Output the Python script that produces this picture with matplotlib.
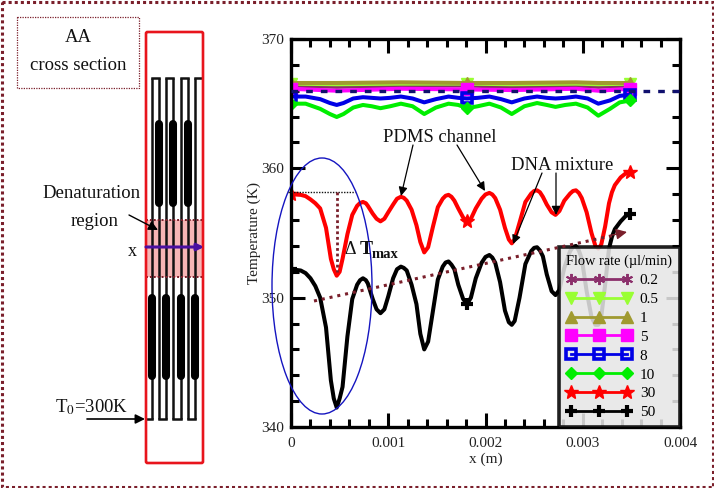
import numpy as np
import matplotlib
matplotlib.use("Agg")
import matplotlib.pyplot as plt
from matplotlib.patches import Rectangle, Ellipse, FancyBboxPatch
from matplotlib.ticker import MultipleLocator, FixedFormatter, FixedLocator

plt.rcParams['font.family'] = ['Liberation Serif', 'DejaVu Serif']
plt.rcParams['mathtext.fontset'] = 'stix'

# data
x_marks = [0, 0.00181, 0.00349]

x_flat = [0, 0.00047, 0.00113, 0.00181, 0.00227, 0.00293, 0.00316, 0.00349]
t_02 = [366.4, 366.3, 366.4, 366.4, 366.3, 366.4, 366.3, 366.4]
t_05 = [366.55, 366.5, 366.55, 366.55, 366.5, 366.55, 366.5, 366.55]
t_1 = [366.6, 366.6, 366.65, 366.6, 366.6, 366.65, 366.6, 366.6]
t_5 = [366.15, 366.0, 366.15, 366.1, 366.05, 366.15, 366.0, 366.15]

x_top = [0, 0.00015, 0.0003, 0.0004, 0.00047, 0.00054, 0.00064, 0.00074, 0.00083, 0.00092, 0.00102,
         0.00113, 0.00125, 0.00137, 0.00149, 0.00162, 0.00172, 0.00181, 0.00192, 0.00204, 0.00216,
         0.00227, 0.0024, 0.00253, 0.00263, 0.00272, 0.00282, 0.00293, 0.00305, 0.00316, 0.00328,
         0.00338, 0.00349]
t_8 = [365.55, 365.55, 365.35, 365.05, 364.9, 365.05, 365.4, 365.5, 365.45, 365.4, 365.45,
       365.55, 365.4, 365.1, 365.35, 365.55, 365.45, 365.4, 365.45, 365.55, 365.35,
       365.1, 365.4, 365.55, 365.45, 365.4, 365.45, 365.55, 365.4, 365.0, 365.25,
       365.6, 365.7]
t_10 = [365.0, 365.0, 364.6, 364.2, 363.97, 364.2, 364.7, 364.9, 364.8, 364.65, 364.8,
        365.0, 364.8, 364.2, 364.7, 365.0, 364.9, 364.65, 364.8, 365.0, 364.7,
        364.2, 364.8, 365.05, 364.9, 364.75, 364.9, 365.0, 364.7, 364.07, 364.6,
        365.1, 365.25]

x_wave = [0, 0.0001, 0.00015, 0.0002, 0.00025, 0.0003, 0.00036, 0.00041, 0.00044, 0.00047, 0.0005,
          0.00053, 0.00058, 0.00063, 0.00068, 0.00071, 0.00074, 0.00077, 0.00079, 0.00084, 0.00088,
          0.00092, 0.00096, 0.001, 0.00105, 0.00109, 0.00113, 0.00116, 0.00119, 0.00124, 0.00129,
          0.00133, 0.00137, 0.00141, 0.00146, 0.00151, 0.00156, 0.00159, 0.00162, 0.00165, 0.00168,
          0.00172, 0.00177, 0.00181, 0.00185, 0.0019, 0.00196, 0.002, 0.00204, 0.00207, 0.0021,
          0.00215, 0.0022, 0.00224, 0.00227, 0.0023, 0.00235, 0.00241, 0.00247, 0.0025, 0.00253,
          0.00256, 0.00259, 0.00263, 0.00268, 0.00272, 0.00276, 0.00281, 0.00287, 0.0029, 0.00293,
          0.00296, 0.00299, 0.00304, 0.00309, 0.00313, 0.00316, 0.00319, 0.00323, 0.00327, 0.0033,
          0.00333, 0.00339, 0.00344, 0.00349]
t_30 = [358.0, 357.95, 357.85, 357.6, 357.3, 356.9, 355.4, 353.0, 352.2, 351.7, 352.0,
        353.0, 354.9, 356.4, 357.1, 357.32, 357.4, 357.3, 357.1, 356.5, 356.1,
        355.9, 356.1, 356.6, 357.2, 357.65, 357.8, 357.72, 357.5, 356.8, 355.6,
        354.3, 353.5, 353.9, 355.5, 357.0, 357.65, 357.88, 357.95, 357.8, 357.5,
        356.9, 356.2, 355.9, 356.1, 356.9, 357.65, 357.98, 358.1, 357.98, 357.7,
        356.8, 355.4, 354.5, 354.2, 354.5, 355.8, 357.4, 358.05, 358.25, 358.3,
        358.15, 357.8, 357.2, 356.6, 356.4, 356.7, 357.5, 358.05, 358.25, 358.3,
        358.1, 357.7, 356.6, 355.0, 354.0, 353.8, 354.1, 355.5, 357.3, 358.15,
        358.7, 359.3, 359.6, 359.7]
t_50 = [352.2, 352.1, 351.9, 351.5, 350.9, 350.0, 347.7, 343.6, 342.2, 341.5, 342.2,
        343.1, 347.0, 349.9, 351.0, 351.35, 351.5, 351.35, 351.1, 349.9, 349.1,
        348.8, 349.1, 350.1, 351.5, 352.2, 352.4, 352.3, 352.1, 351.0, 349.5,
        347.2, 346.0, 346.6, 349.0, 351.4, 352.4, 352.72, 352.8, 352.55, 352.2,
        351.0, 349.9, 349.5, 350.0, 351.5, 352.7, 353.15, 353.3, 353.1, 352.7,
        351.2, 349.0, 348.1, 347.9, 348.2, 350.0, 352.6, 353.6, 353.85, 353.9,
        353.65, 353.2, 351.8, 350.5, 350.2, 350.6, 352.3, 353.6, 353.92, 354.0,
        353.65, 353.0, 350.5, 348.5, 347.9, 347.9, 348.5, 351.0, 353.8, 354.7,
        355.3, 355.9, 356.3, 356.5]

x_ref = [0, 0.004]
t_ref = [366.0, 366.0]

x_ticks = [0, 0.001, 0.002, 0.003, 0.004]
x_labels = ['0', '0.001', '0.002', '0.003', '0.004']
y_ticks = [340, 350, 360, 370]
y_labels = ['340', '350', '360', '370']

BROWN = '#7a1f2b'


def marks_for(xs):
    return [int(np.argmin(np.abs(np.array(xs) - m))) for m in x_marks]


fig = plt.figure(figsize=(7.14, 4.88), dpi=100)
W, H = 714.0, 488.0

# chart axes
ax = fig.add_axes([291 / W, 1 - 427 / H, 389 / W, 388 / H])
lw = 2.9
ax.plot(x_flat, t_02, color='#8b2f6b', lw=lw, marker=(6, 2, 0), ms=8, mew=1.4, markevery=marks_for(x_flat), label='0.2')
ax.plot(x_flat, t_05, color='#99ff33', lw=lw, marker='v', ms=8.5, markevery=marks_for(x_flat), label='0.5')
ax.plot(x_flat, t_1, color='#a09a30', lw=lw, marker='^', ms=8.5, markevery=marks_for(x_flat), label='1')
ax.plot(x_flat, t_5, color='#ff00ff', lw=lw, marker='s', ms=8.5, markevery=marks_for(x_flat), label='5')
ax.plot(x_top, t_8, color='#0000e6', lw=lw, marker='s', ms=7, mfc='none', mew=2.6, markevery=marks_for(x_top), label='8')
ax.plot(x_top, t_10, color='#00ee00', lw=lw, marker='D', ms=6.5, markevery=marks_for(x_top), label='10')
ax.plot(x_wave, t_30, color='#ff0000', lw=lw, marker='*', ms=10, markevery=marks_for(x_wave), label='30')
ax.plot(x_wave, t_50, color='black', lw=lw, marker='+', ms=9, mew=3, markevery=marks_for(x_wave), label='50')
ax.plot(x_ref, t_ref, color='#10106e', lw=2.4, dashes=(2.0, 2.4), zorder=4)

ax.set_xlim(0, 0.004)
ax.set_ylim(340, 370)
ax.xaxis.set_major_locator(FixedLocator(x_ticks))
ax.xaxis.set_major_formatter(FixedFormatter(x_labels))
ax.yaxis.set_major_locator(FixedLocator(y_ticks))
ax.yaxis.set_major_formatter(FixedFormatter(y_labels))
ax.xaxis.set_minor_locator(MultipleLocator(0.0002))
ax.yaxis.set_minor_locator(MultipleLocator(2))
ax.tick_params(which='major', direction='in', length=10, width=2.2, top=True, right=True, labelsize=11, pad=5, labelcolor='#222222')
ax.tick_params(which='minor', direction='in', length=5.5, width=2.2, top=True, right=True)
ax.tick_params(axis='x', which='major', pad=7)
for s in ax.spines.values():
    s.set_linewidth(2.4)
ax.set_xlabel('x (m)', fontsize=11, labelpad=2, color='#222222')
ax.set_ylabel('Temperature (K)', fontsize=11, labelpad=0, color='#222222')

leg = ax.legend(title='Flow rate (\u00b5l/min)', loc='lower right', bbox_to_anchor=(1.0, 0.0), borderaxespad=0,
                fontsize=11, title_fontsize=10.4, numpoints=3, handlelength=4.3, handletextpad=0.5,
                labelspacing=0.34, borderpad=0.5, fancybox=False, framealpha=0.87,
                facecolor='#e6e6e6', edgecolor='black', alignment='left')
leg.get_frame().set_linewidth(2.6)
leg.set_zorder(6)
for h in leg.get_lines():
    h.set_linewidth(2.0)

# overlay in pixel coordinates for the schematic and the annotations
ov = fig.add_axes([0, 0, 1, 1], zorder=10)
ov.set_xlim(0, W)
ov.set_ylim(H, 0)
ov.axis('off')
ov.patch.set_alpha(0)

ov.add_patch(Rectangle((1.5, 1.5), 711, 485, fill=False, ec=BROWN, lw=2.2, ls=(0, (1, 1))))
ov.add_patch(Rectangle((17, 17), 122, 71, fill=False, ec=BROWN, lw=0.9, ls=(0, (1, 1))))
ov.text(78, 38, 'AA', ha='center', va='center', fontsize=13.5, color='#111111')
ov.text(78, 66, 'cross section', ha='center', va='center', fontsize=13.5, color='#111111')

# denaturation band goes under the channel
ov.add_patch(Rectangle((146, 220), 57, 57, fc='#f7b5b5', ec='none', zorder=1))
ov.plot([146, 203], [220, 220], color=BROWN, lw=1.4, ls=(0, (1, 1)), zorder=3)
ov.plot([146, 203], [277, 277], color=BROWN, lw=1.4, ls=(0, (1, 1)), zorder=3)

channel_x = [152.3, 159, 166, 173.3, 180.7, 187.7, 195]
for cx in channel_x:
    ov.plot([cx, cx], [78, 419], color='#111111', lw=1.8, zorder=2, solid_capstyle='butt')
for a, b in [(152.3, 159), (166, 173.3), (180.7, 187.7), (195, 202)]:
    ov.plot([a, b], [78, 78], color='#111111', lw=1.8, zorder=2)
for a, b in [(146, 152.3), (159, 166), (173.3, 180.7), (187.7, 195)]:
    ov.plot([a, b], [419, 419], color='#111111', lw=1.8, zorder=2)
for cx in [159, 173.3, 187.7]:
    ov.plot([cx, cx], [124, 203], color='black', lw=5.8, solid_capstyle='round', zorder=2)
for cx in [152.3, 166, 180.7, 195]:
    ov.plot([cx, cx], [298, 376], color='black', lw=5.8, solid_capstyle='round', zorder=2)

ov.add_patch(FancyBboxPatch((146, 32), 57, 431, boxstyle='round,pad=0,rounding_size=1.5',
                            fill=False, ec='#e8141c', lw=1.9, zorder=3))

ov.annotate('', xy=(204, 247), xytext=(146, 247), zorder=4,
            arrowprops=dict(arrowstyle='-|>', color='#4b0fa0', lw=2.2, shrinkA=0, shrinkB=0))
ov.text(132, 251, 'x', ha='center', va='center', fontsize=13, color='#111111')
ov.text(92, 193, 'Denaturation', ha='center', va='center', fontsize=13.5, color='#111111')
ov.text(95, 222, 'region', ha='center', va='center', fontsize=13.5, color='#111111')
ov.annotate('', xy=(158, 230), xytext=(129, 215),
            arrowprops=dict(arrowstyle='-|>', color='black', lw=1.0, shrinkA=0, shrinkB=0, mutation_scale=14))
ov.text(92, 407, 'T$_0$=300K', ha='center', va='center', fontsize=13.5, color='#111111')
ov.annotate('', xy=(145, 419), xytext=(87, 419),
            arrowprops=dict(arrowstyle='-|>', color='black', lw=1.2, shrinkA=0, shrinkB=0, mutation_scale=14))

# chart annotations
ov.add_patch(Ellipse((322, 286), 100, 256, fill=False, ec='#1515c0', lw=1.0))
ov.plot([288, 355], [192, 192], color='#111111', lw=1.0, ls=(0, (1, 1)))
ov.plot([337, 337], [192, 272], color=BROWN, lw=2.0, ls=(0, (1, 1)))
ov.text(350, 250, '\u0394', ha='center', va='center', fontsize=13, color='#111111')
ov.text(366, 250, 'T', ha='center', va='center', fontsize=14, fontweight='bold', color='#111111')
ov.text(372, 254, 'max', ha='left', va='center', fontsize=10.5, fontweight='bold', color='#111111')

ov.text(440, 137, 'PDMS channel', ha='center', va='center', fontsize=13.4, color='#111111')
ov.annotate('', xy=(401, 196), xytext=(413, 145),
            arrowprops=dict(arrowstyle='-|>', color='black', lw=0.9, shrinkA=0, shrinkB=0, mutation_scale=13))
ov.annotate('', xy=(485, 191), xytext=(457, 145),
            arrowprops=dict(arrowstyle='-|>', color='black', lw=0.9, shrinkA=0, shrinkB=0, mutation_scale=13))
ov.text(562, 165, 'DNA mixture', ha='center', va='center', fontsize=13.4, color='#111111')
ov.annotate('', xy=(513, 244), xytext=(542, 173),
            arrowprops=dict(arrowstyle='-|>', color='black', lw=0.9, shrinkA=0, shrinkB=0, mutation_scale=13))
ov.annotate('', xy=(556, 215), xytext=(556, 173),
            arrowprops=dict(arrowstyle='-|>', color='black', lw=0.9, shrinkA=0, shrinkB=0, mutation_scale=13))
ov.plot([314, 620], [301, 234], color=BROWN, lw=2.2, ls=(0, (1, 1.6)))
ov.annotate('', xy=(627, 232), xytext=(612, 235),
            arrowprops=dict(arrowstyle='-|>', color=BROWN, lw=1.0, shrinkA=0, shrinkB=0, mutation_scale=16))

fig.savefig('out.png', dpi=100)
